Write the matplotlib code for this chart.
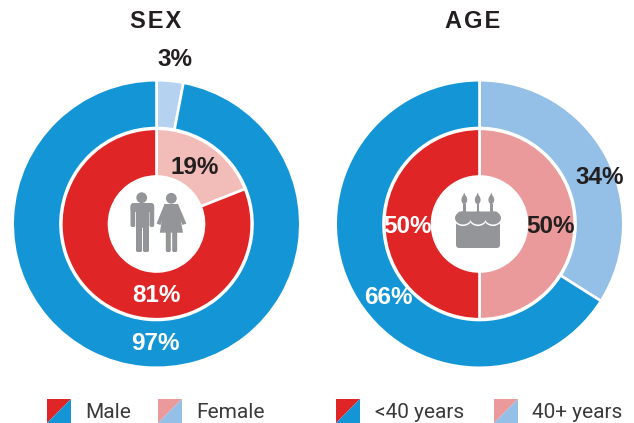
import matplotlib
matplotlib.use("Agg")
import matplotlib.pyplot as plt
from matplotlib.patches import Circle, Ellipse, FancyBboxPatch, Polygon, Rectangle
from matplotlib.transforms import Affine2D

BLUE = "#1496d6"
LIGHT_BLUE = "#94bfe6"
PALE_BLUE = "#b5d2f0"
RED = "#e02526"
PINK = "#ea9a9a"
PALE_PINK = "#f2bcb8"
GREY = "#939598"
DARK = "#231f20"

sex_outer = [3, 97]
sex_inner = [19, 81]
age_outer = [34, 66]
age_inner = [50, 50]

legend_left = ["Male", "Female"]
legend_right = ["<40 years", "40+ years"]

W, H = 634, 423


def Y(y):
    return H - y


def rect(ax, x0, y0, x1, y1, r=1.2, z=6):
    ax.add_patch(FancyBboxPatch((x0 + r, Y(y1) + r), x1 - x0 - 2 * r, y1 - y0 - 2 * r,
                                boxstyle=f"round,pad={r}", fc=GREY, ec="none", zorder=z))


def poly(ax, pts, color=GREY, z=6):
    ax.add_patch(Polygon(pts, closed=True, fc=color, ec="none", zorder=z, transform=flip))


def donut(ax, cx, cy, outer, inner, outer_colors, inner_colors):
    wp = dict(edgecolor="white", linewidth=1.9)
    ax.pie(outer, colors=outer_colors, center=(cx, Y(cy)), radius=143.8, startangle=90,
           counterclock=False, frame=True, wedgeprops=dict(width=47.8, **wp))
    ax.pie(inner, colors=inner_colors, center=(cx, Y(cy)), radius=95.2, startangle=90,
           counterclock=False, frame=True, wedgeprops=dict(width=47.7, **wp))
    ax.add_patch(Circle((cx, Y(cy)), 48, fc="white", ec="none", zorder=5))


def people(ax):
    # man
    ax.add_patch(Circle((141.7, Y(197.7)), 5.4, fc=GREY, ec="none", zorder=6))
    rect(ax, 130.5, 203, 154.2, 212, r=3)
    rect(ax, 130.5, 206, 135.2, 227, r=1.8)
    rect(ax, 149.5, 206, 154.2, 227, r=1.8)
    rect(ax, 136, 205, 149, 228, r=0.3)
    rect(ax, 136, 225, 142, 252, r=1.6)
    rect(ax, 143, 225, 149, 252, r=1.6)
    # woman
    ax.add_patch(Circle((171.3, Y(198.3)), 5.4, fc=GREY, ec="none", zorder=6))
    poly(ax, [(164.5, 204), (178, 204), (183, 232.7), (159.8, 232.7)])
    poly(ax, [(164.5, 204), (168, 205.5), (160.5, 225), (156.6, 223.6)])
    poly(ax, [(178, 204), (174.5, 205.5), (182.5, 225), (186.4, 223.6)])
    rect(ax, 165.8, 230, 170.8, 252, r=1.6)
    rect(ax, 172.2, 230, 177.2, 252, r=1.6)


def cake(ax):
    for x in (464.3, 477.7, 491.3):
        ax.add_patch(Ellipse((x, Y(199.8)), 5.8, 8.6, fc=GREY, ec="none", zorder=6))
        poly(ax, [(x - 1.9, 197.5), (x, 192.5), (x + 1.9, 197.5)])
        ax.add_patch(Rectangle((x - 1.2, Y(213)), 2.4, 8.5, fc=GREY, ec="none", zorder=6))
    rect(ax, 456, 222, 500, 248, r=3)
    for x in (463, 478, 493):
        ax.add_patch(Ellipse((x, Y(219.3)), 17, 13.5, fc="white", ec="none", zorder=6.5))
    for x in (463, 478, 493):
        ax.add_patch(Ellipse((x, Y(218)), 16, 13, fc=GREY, ec="none", zorder=7))
    rect(ax, 458, 211.5, 498, 219, r=2.5, z=7)


def legend_swatch(ax, x, y, c1, c2, s=24):
    poly(ax, [(x, y), (x + s, y), (x, y + s)], color=c1)
    poly(ax, [(x + s, y), (x + s, y + s), (x, y + s)], color=c2)


fig = plt.figure(figsize=(W / 100, H / 100), dpi=100)
ax = fig.add_axes([0, 0, 1, 1])
flip = Affine2D().scale(1, -1).translate(0, H) + ax.transData

donut(ax, 156.5, 224, sex_outer, sex_inner, [PALE_BLUE, BLUE], [PALE_PINK, RED])
donut(ax, 479.5, 224, age_outer, age_inner, [LIGHT_BLUE, BLUE], [PINK, RED])
people(ax)
cake(ax)

ax.set_xlim(0, W)
ax.set_ylim(0, H)
ax.set_aspect("equal")
ax.axis("off")

title = dict(family="Liberation Sans", fontweight="bold", ha="center", va="center", fontsize=17, color=DARK)
ax.text(156, Y(21), "S\u200aE\u200aX", **title)
ax.text(472.5, Y(21), "A\u200aG\u200aE", **title)

bold = dict(family="Liberation Sans", fontweight="bold", ha="center", va="center", fontsize=17.5, zorder=8)
ax.text(175, Y(59), f"{sex_outer[0]}%", color=DARK, **bold)
ax.text(155.5, Y(344), f"{sex_outer[1]}%", color="white", **bold)
ax.text(195, Y(167), f"{sex_inner[0]}%", color=DARK, **bold)
ax.text(156, Y(295), f"{sex_inner[1]}%", color="white", **bold)
ax.text(600, Y(177), f"{age_outer[0]}%", color=DARK, **bold)
ax.text(388, Y(297), f"{age_outer[1]}%", color="white", **bold)
ax.text(550.5, Y(226), f"{age_inner[0]}%", color=DARK, **bold)
ax.text(407.5, Y(226), f"{age_inner[1]}%", color="white", **bold)

legend_swatch(ax, 47, 399, RED, BLUE)
legend_swatch(ax, 158, 399, PINK, LIGHT_BLUE)
legend_swatch(ax, 336, 399, RED, BLUE)
legend_swatch(ax, 494, 399, PINK, LIGHT_BLUE)

leg = dict(family="Roboto", fontsize=15, color="#3a3a3a", va="center", ha="left")
ax.text(85, Y(412), legend_left[0], **leg)
ax.text(196.5, Y(412), legend_left[1], **leg)
ax.text(375, Y(412), legend_right[0], **leg)
ax.text(531.5, Y(412), legend_right[1], **leg)

fig.savefig("out.png", dpi=100)
